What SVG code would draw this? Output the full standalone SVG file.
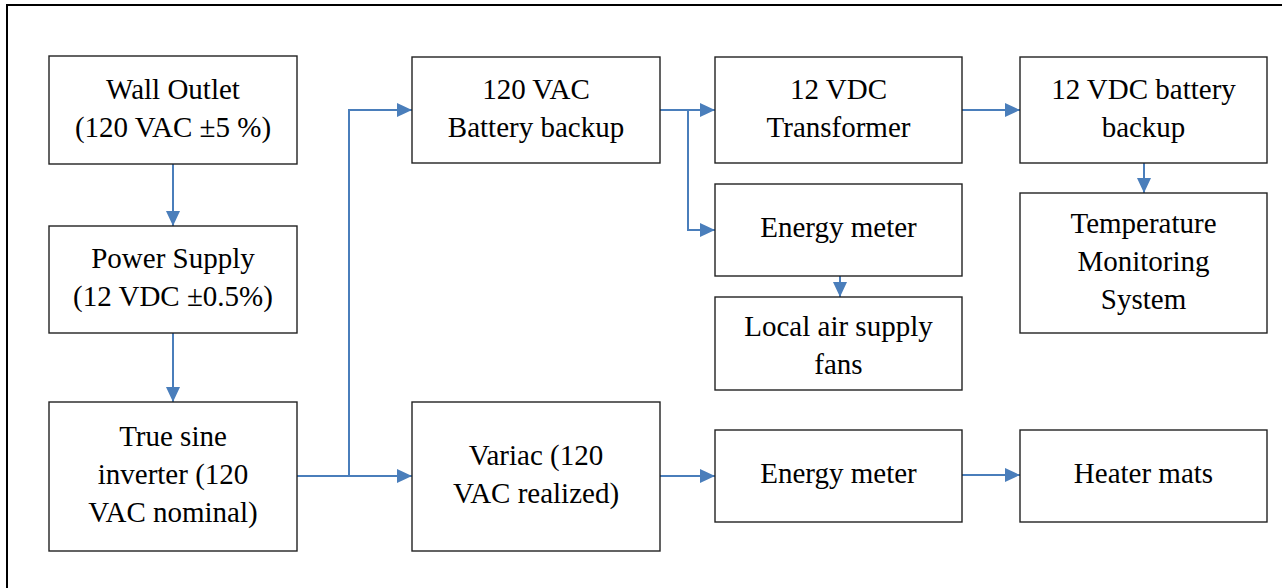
<svg xmlns="http://www.w3.org/2000/svg" width="1282" height="588" viewBox="0 0 1282 588">
<style>
.box{fill:#fff;stroke:#222;stroke-width:1.4}
.t{font-size:29px;fill:#000;text-anchor:middle}
.c{fill:none;stroke:#4A7EBB;stroke-width:2}
</style>
<defs>
<marker id="ah" viewBox="0 0 15 14" refX="15" refY="7" markerWidth="15" markerHeight="14" markerUnits="userSpaceOnUse" orient="auto">
<path d="M0,0 L15,7 L0,14 Z" fill="#4A7EBB"/>
</marker>
</defs>
<rect width="1282" height="588" fill="#fff"/>
<path d="M7,588 V5 H1282" fill="none" stroke="#000" stroke-width="2"/>

<g id="connectors">
<path class="c" d="M173,164 V226" marker-end="url(#ah)"/>
<path class="c" d="M173,333 V402" marker-end="url(#ah)"/>
<path class="c" d="M297,476 H412" marker-end="url(#ah)"/>
<path class="c" d="M349,476 V110 H412" marker-end="url(#ah)"/>
<path class="c" d="M660,110 H715" marker-end="url(#ah)"/>
<path class="c" d="M688,110 V230 H715" marker-end="url(#ah)"/>
<path class="c" d="M962,110 H1020" marker-end="url(#ah)"/>
<path class="c" d="M1144,163 V193" marker-end="url(#ah)"/>
<path class="c" d="M840,276 V297" marker-end="url(#ah)"/>
<path class="c" d="M660,476 H715" marker-end="url(#ah)"/>
<path class="c" d="M962,475 H1020" marker-end="url(#ah)"/>
</g>

<g font-family="'Liberation Serif', 'Times New Roman', 'DejaVu Serif', serif">
<g id="wall-outlet">
<rect class="box" x="49" y="56" width="248" height="108"/>
<text class="t" x="173" y="99">Wall Outlet</text>
<text class="t" x="173" y="137">(120 VAC ±5 %)</text>
</g>
<g id="power-supply">
<rect class="box" x="49" y="226" width="248" height="107"/>
<text class="t" x="173" y="268">Power Supply</text>
<text class="t" x="173" y="306">(12 VDC ±0.5%)</text>
</g>
<g id="inverter">
<rect class="box" x="49" y="402" width="248" height="149"/>
<text class="t" x="173" y="446">True sine</text>
<text class="t" x="173" y="484">inverter (120</text>
<text class="t" x="173" y="522">VAC nominal)</text>
</g>
<g id="ac-battery">
<rect class="box" x="412" y="57" width="248" height="106"/>
<text class="t" x="536" y="99">120 VAC</text>
<text class="t" x="536" y="137">Battery backup</text>
</g>
<g id="transformer">
<rect class="box" x="715" y="57" width="247" height="106"/>
<text class="t" x="838.5" y="99">12 VDC</text>
<text class="t" x="838.5" y="137">Transformer</text>
</g>
<g id="dc-battery">
<rect class="box" x="1020" y="57" width="247" height="106"/>
<text class="t" x="1143.5" y="99">12 VDC battery</text>
<text class="t" x="1143.5" y="137">backup</text>
</g>
<g id="energy-meter-top">
<rect class="box" x="715" y="184" width="247" height="92"/>
<text class="t" x="838.5" y="237">Energy meter</text>
</g>
<g id="fans">
<rect class="box" x="715" y="297" width="247" height="93"/>
<text class="t" x="838.5" y="336">Local air supply</text>
<text class="t" x="838.5" y="374">fans</text>
</g>
<g id="temperature">
<rect class="box" x="1020" y="193" width="247" height="140"/>
<text class="t" x="1143.5" y="233">Temperature</text>
<text class="t" x="1143.5" y="271">Monitoring</text>
<text class="t" x="1143.5" y="309">System</text>
</g>
<g id="variac">
<rect class="box" x="412" y="402" width="248" height="149"/>
<text class="t" x="536" y="465">Variac (120</text>
<text class="t" x="536" y="503">VAC realized)</text>
</g>
<g id="energy-meter-bottom">
<rect class="box" x="715" y="430" width="247" height="92"/>
<text class="t" x="838.5" y="483">Energy meter</text>
</g>
<g id="heater">
<rect class="box" x="1020" y="430" width="247" height="92"/>
<text class="t" x="1143.5" y="483">Heater mats</text>
</g>
</g>
</svg>
